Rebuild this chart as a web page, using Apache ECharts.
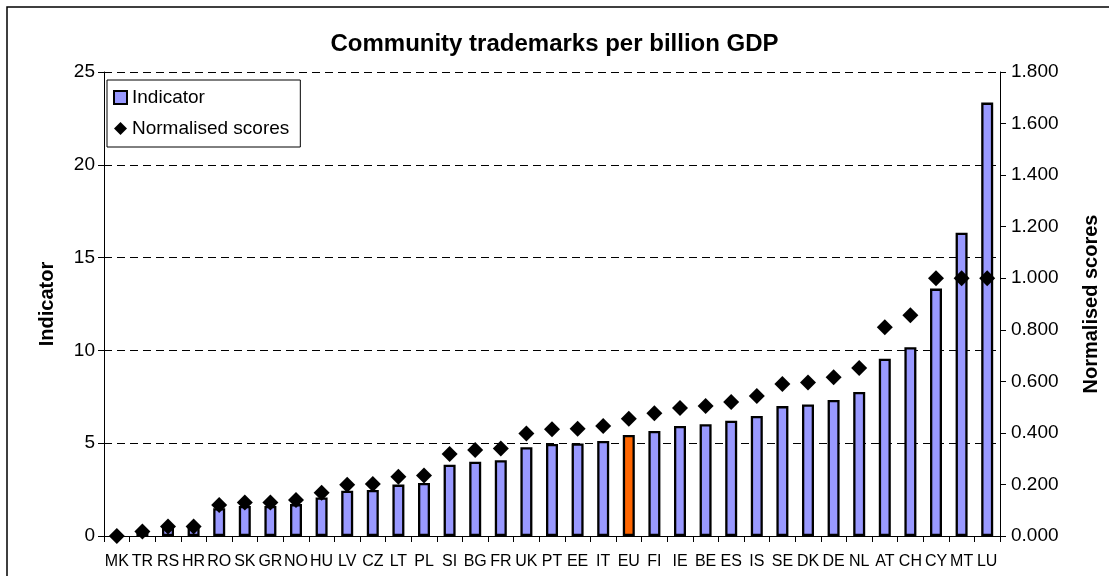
<!DOCTYPE html>
<html>
<head>
<meta charset="utf-8">
<script src="https://cdn.jsdelivr.net/npm/echarts@6/dist/echarts.min.js"></script>
<style>
  html, body { margin: 0; padding: 0; background: #fff; }
  #chart { width: 1109px; height: 576px; }
</style>
</head>
<body>
<div id="chart"></div>
<script>
// country codes, sorted by indicator value
const countries = ['MK', 'TR', 'RS', 'HR', 'RO', 'SK', 'GR', 'NO', 'HU', 'LV', 'CZ', 'LT', 'PL', 'SI', 'BG', 'FR', 'UK', 'PT', 'EE', 'IT', 'EU', 'FI', 'IE', 'BE', 'ES', 'IS', 'SE', 'DK', 'DE', 'NL', 'AT', 'CH', 'CY', 'MT', 'LU']

// community trademarks per billion GDP (left axis)
const indicator = [0, 0.2, 0.5, 0.5, 1.5, 1.62, 1.62, 1.72, 2.08, 2.44, 2.48, 2.77, 2.86, 3.84, 4.0, 4.08, 4.78, 4.96, 4.99, 5.12, 5.44, 5.66, 5.93, 6.02, 6.21, 6.47, 7.0, 7.09, 7.33, 7.76, 9.55, 10.17, 13.33, 16.34, 23.35]

// normalised scores (right axis)
const normalised = [0, 0.017, 0.037, 0.037, 0.12, 0.13, 0.13, 0.14, 0.168, 0.199, 0.202, 0.23, 0.235, 0.318, 0.334, 0.339, 0.398, 0.414, 0.416, 0.427, 0.455, 0.476, 0.497, 0.504, 0.52, 0.543, 0.59, 0.595, 0.616, 0.652, 0.81, 0.856, 1.0, 1.0, 1.0]

const highlight = 'EU'
const font = "'Liberation Sans', Arial, sans-serif"

const chart = echarts.init(document.getElementById('chart'))

const barData = indicator.map((v, i) => {
  if (countries[i] === highlight) {
    return { value: v, itemStyle: { color: '#FF6600' } }
  }
  return v
})

chart.setOption({
  animation: false,
  textStyle: { fontFamily: font },
  title: {
    text: 'Community trademarks per billion GDP',
    left: 'center',
    top: 27,
    textStyle: { fontSize: 24, fontWeight: 'bold', color: '#000', fontFamily: font }
  },
  graphic: [{
    type: 'rect',
    shape: { x: 7, y: 7, width: 1300, height: 800 },
    style: { fill: 'none', stroke: '#000', lineWidth: 1.5 },
    silent: true
  }],
  legend: {
    orient: 'vertical',
    left: 107,
    top: 80,
    padding: [8, 11, 9, 6],
    itemGap: 12,
    itemWidth: 13,
    itemHeight: 13,
    backgroundColor: '#fff',
    borderColor: '#000',
    borderWidth: 1,
    textStyle: { fontSize: 19, color: '#000', fontFamily: font },
    data: [
      { name: 'Indicator', icon: 'rect' },
      { name: 'Normalised scores', icon: 'diamond' }
    ]
  },
  grid: { left: 104, right: 108, top: 72, bottom: 40 },
  xAxis: {
    type: 'category',
    data: countries,
    axisLine: { lineStyle: { color: '#000', width: 1 } },
    axisTick: { show: true, length: 6, lineStyle: { color: '#000' } },
    axisLabel: { interval: 0, fontSize: 16, color: '#000', margin: 18, fontFamily: font }
  },
  yAxis: [{
    type: 'value',
    min: 0,
    max: 25,
    interval: 5,
    name: 'Indicator',
    nameLocation: 'middle',
    nameGap: 47,
    nameTextStyle: { fontSize: 20, fontWeight: 'bold', color: '#000', fontFamily: font },
    axisLine: { show: true, lineStyle: { color: '#000' } },
    axisTick: { show: true, length: 6, lineStyle: { color: '#000' } },
    axisLabel: { fontSize: 19, color: '#000', margin: 9, fontFamily: font },
    splitLine: { show: true, lineStyle: { color: '#000', type: [8, 5], width: 1 } }
  }, {
    type: 'value',
    min: 0,
    max: 1.8,
    interval: 0.2,
    position: 'right',
    name: 'Normalised scores',
    nameLocation: 'middle',
    nameGap: 81,
    nameTextStyle: { fontSize: 20, fontWeight: 'bold', color: '#000', fontFamily: font },
    axisLine: { show: true, lineStyle: { color: '#000' } },
    axisTick: { show: true, length: 6, lineStyle: { color: '#000' } },
    axisLabel: { fontSize: 19, color: '#000', margin: 11, fontFamily: font, formatter: v => v.toFixed(3) },
    splitLine: { show: false }
  }],
  series: [{
    name: 'Indicator',
    type: 'bar',
    yAxisIndex: 0,
    barWidth: 12,
    data: barData,
    itemStyle: { color: '#9999FF', borderColor: '#000', borderWidth: 2.3 }
  }, {
    name: 'Normalised scores',
    type: 'scatter',
    yAxisIndex: 1,
    symbol: 'diamond',
    symbolSize: 16,
    z: 5,
    data: normalised,
    itemStyle: { color: '#000', opacity: 1 }
  }]
})
</script>
</body>
</html>
